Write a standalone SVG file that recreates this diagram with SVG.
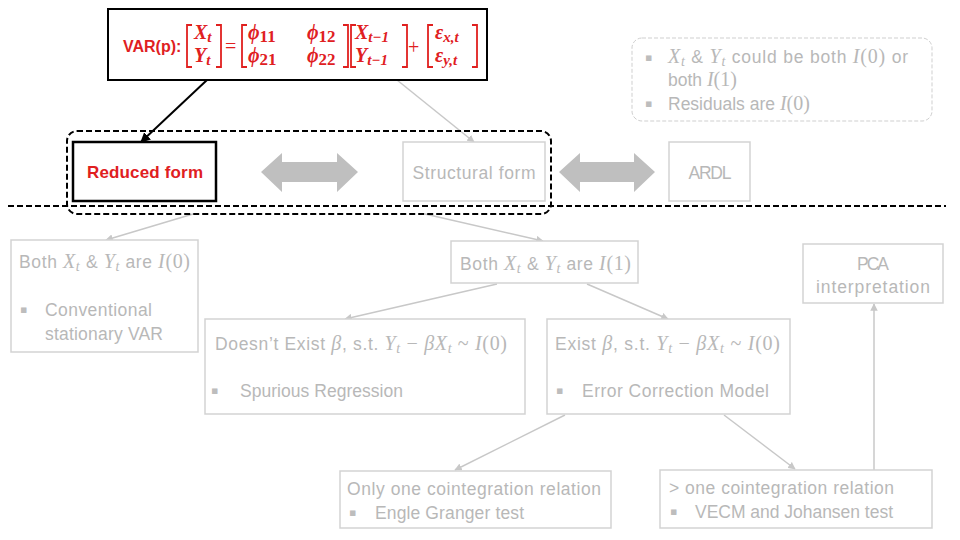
<svg xmlns="http://www.w3.org/2000/svg" width="960" height="540" viewBox="0 0 960 540">
<defs>
<style>
.box{fill:#fff;stroke:#d3d3d3;stroke-width:1.5}
.g{font-family:"Liberation Sans",Arial,sans-serif;font-size:17.5px;fill:#b8b8b8}
.m{font-family:"Liberation Serif","DejaVu Serif",serif;font-style:italic;font-size:20px}
.mr{font-family:"Liberation Serif","DejaVu Serif",serif;font-size:20px}
.sub{font-size:14px}
.bul{font-family:"DejaVu Sans",sans-serif;font-size:11px;fill:#bdbdbd}
.red{fill:#e0201f}
.eq{font-family:"Liberation Serif","DejaVu Serif",serif;font-style:italic;font-weight:bold;font-size:20px;fill:#e0201f}
.eqs{font-size:15px}
.eqd{font-size:17px;font-style:normal}
.br{fill:none;stroke:#e0201f;stroke-width:1.8}
.conn{fill:none;stroke:#c8c8c8;stroke-width:1.5}
.dbl{fill:#bfbfbf}
</style>
<marker id="ag" viewBox="0 0 10 10" refX="9" refY="5" markerWidth="5" markerHeight="5" orient="auto"><path d="M0,0 L10,5 L0,10 z" fill="#c8c8c8"/></marker>
<marker id="ab" viewBox="0 0 10 10" refX="9" refY="5" markerWidth="5" markerHeight="5" orient="auto"><path d="M0,0 L10,5 L0,10 z" fill="#000"/></marker>
</defs>
<rect width="960" height="540" fill="#fff"/>

<line x1="8" y1="206" x2="946" y2="206" stroke="#000" stroke-width="2" stroke-dasharray="6,3"/>

<g id="connectors">
<line x1="207" y1="80" x2="141" y2="142" stroke="#000" stroke-width="2" marker-end="url(#ab)"/>
<line x1="397" y1="80" x2="474" y2="142" class="conn" marker-end="url(#ag)"/>
<line x1="193" y1="214" x2="106" y2="240" class="conn" marker-end="url(#ag)"/>
<line x1="425" y1="214" x2="543" y2="241" class="conn" marker-end="url(#ag)"/>
<line x1="497" y1="284" x2="345" y2="319" class="conn" marker-end="url(#ag)"/>
<line x1="587" y1="284" x2="668" y2="319" class="conn" marker-end="url(#ag)"/>
<line x1="565" y1="415" x2="455" y2="470" class="conn" marker-end="url(#ag)"/>
<line x1="724" y1="415" x2="795" y2="469" class="conn" marker-end="url(#ag)"/>
<line x1="874" y1="470" x2="874" y2="304" class="conn" marker-end="url(#ag)"/>
<polygon class="dbl" points="261,172 282,153 282,162 337,162 337,153 358,172 337,192 337,182 282,182 282,192"/>
<polygon class="dbl" points="559,172 580,153 580,162 634,162 634,153 655,172 634,192 634,182 580,182 580,192"/>
</g>

<g id="var-equation">
<rect x="108" y="9" width="379" height="71" fill="#fff" stroke="#000" stroke-width="2"/>
<text x="123" y="52" font-family="'Liberation Sans',Arial,sans-serif" font-weight="bold" font-size="16" class="red">VAR(p):</text>
<path class="br" d="M192,25 H187 V67 H192 M216,25 H221 V67 H216"/>
<text class="eq" x="194" y="39">X<tspan class="eqs" dy="3">t</tspan></text>
<text class="eq" x="194" y="62">Y<tspan class="eqs" dy="3">t</tspan></text>
<text x="225" y="53" font-family="'Liberation Serif',serif" font-size="20" class="red">=</text>
<path class="br" d="M247,25 H242 V67 H247 M343,25 H348 V67 H343"/>
<text class="eq" x="248" y="39">ϕ<tspan class="eqd" dy="3">11</tspan></text>
<text class="eq" x="307" y="39">ϕ<tspan class="eqd" dy="3">12</tspan></text>
<text class="eq" x="248" y="62">ϕ<tspan class="eqd" dy="3">21</tspan></text>
<text class="eq" x="307" y="62">ϕ<tspan class="eqd" dy="3">22</tspan></text>
<path class="br" d="M356,25 H351 V67 H356 M402,25 H407 V67 H402"/>
<text class="eq" x="355" y="39">X<tspan class="eqs" dy="3">t−1</tspan></text>
<text class="eq" x="355" y="62">Y<tspan class="eqs" dy="3">t−1</tspan></text>
<text x="408" y="54" font-family="'Liberation Serif',serif" font-size="20" class="red">+</text>
<path class="br" d="M433,25 H428 V67 H433 M472,25 H477 V67 H472"/>
<text class="eq" x="435" y="39">ε<tspan class="eqs" dy="3">x,t</tspan></text>
<text class="eq" x="435" y="62">ε<tspan class="eqs" dy="3">y,t</tspan></text>
</g>

<g id="assumptions">
<rect x="632" y="38" width="300" height="83" rx="10" fill="#fff" stroke="#cfcfcf" stroke-width="1" stroke-dasharray="4,2"/>
<text class="bul" x="645" y="61">▪</text>
<text class="g" x="668" y="63" textLength="240"><tspan class="m">X</tspan><tspan class="m sub" dy="3">t</tspan><tspan dy="-3"> &amp; </tspan><tspan class="m">Y</tspan><tspan class="m sub" dy="3">t</tspan><tspan dy="-3"> could be both </tspan><tspan class="m">I</tspan><tspan class="mr">(0)</tspan> or</text>
<text class="g" x="668" y="86">both <tspan class="m">I</tspan><tspan class="mr">(1)</tspan></text>
<text class="bul" x="645" y="107">▪</text>
<text class="g" x="668" y="110">Residuals are <tspan class="m">I</tspan><tspan class="mr">(0)</tspan></text>
</g>

<g id="reduced-structural-group">
<rect x="67" y="131" width="484" height="83" rx="10" fill="none" stroke="#000" stroke-width="2" stroke-dasharray="6,3"/>
</g>

<g id="reduced-form">
<rect x="73" y="142" width="143" height="59" fill="#fff" stroke="#000" stroke-width="2.5"/>
<text x="145" y="178" text-anchor="middle" font-family="'Liberation Sans',Arial,sans-serif" font-weight="bold" font-size="17" class="red" textLength="116">Reduced form</text>
</g>

<g id="structural-form">
<rect x="403" y="142" width="142" height="59" class="box"/>
<text class="g" x="474" y="179" text-anchor="middle" textLength="123">Structural form</text>
</g>

<g id="ardl">
<rect x="669" y="142" width="81" height="59" class="box"/>
<text class="g" x="710" y="179" text-anchor="middle" textLength="43">ARDL</text>
</g>

<g id="both-i0">
<rect x="11" y="240" width="187" height="112" class="box"/>
<text class="g" x="19" y="268" textLength="171">Both <tspan class="m">X</tspan><tspan class="m sub" dy="3">t</tspan><tspan dy="-3"> &amp; </tspan><tspan class="m">Y</tspan><tspan class="m sub" dy="3">t</tspan><tspan dy="-3"> are </tspan><tspan class="m">I</tspan><tspan class="mr">(0)</tspan></text>
<text class="bul" x="20" y="313">▪</text>
<text class="g" x="45" y="316" textLength="107">Conventional</text>
<text class="g" x="45" y="340" textLength="118">stationary VAR</text>
</g>

<g id="both-i1">
<rect x="451" y="241" width="187" height="42" class="box"/>
<text class="g" x="460" y="270" textLength="171">Both <tspan class="m">X</tspan><tspan class="m sub" dy="3">t</tspan><tspan dy="-3"> &amp; </tspan><tspan class="m">Y</tspan><tspan class="m sub" dy="3">t</tspan><tspan dy="-3"> are </tspan><tspan class="m">I</tspan><tspan class="mr">(1)</tspan></text>
</g>

<g id="pca">
<rect x="803" y="244" width="140" height="59" class="box"/>
<text class="g" x="873" y="270" text-anchor="middle" textLength="32">PCA</text>
<text class="g" x="873" y="293" text-anchor="middle" textLength="114">interpretation</text>
</g>

<g id="no-cointegration">
<rect x="205" y="319" width="320" height="95" class="box"/>
<text class="g" x="215" y="350" textLength="292">Doesn’t Exist <tspan class="m">β</tspan>, s.t. <tspan class="m">Y</tspan><tspan class="m sub" dy="3">t</tspan><tspan class="mr" dy="-3"> − </tspan><tspan class="m">βX</tspan><tspan class="m sub" dy="3">t</tspan><tspan class="mr" dy="-3"> ~ </tspan><tspan class="m">I</tspan><tspan class="mr">(0)</tspan></text>
<text class="bul" x="211" y="394">▪</text>
<text class="g" x="240" y="397" textLength="163">Spurious Regression</text>
</g>

<g id="cointegration">
<rect x="547" y="319" width="243" height="95" class="box"/>
<text class="g" x="555" y="350" textLength="225">Exist <tspan class="m">β</tspan>, s.t. <tspan class="m">Y</tspan><tspan class="m sub" dy="3">t</tspan><tspan class="mr" dy="-3"> − </tspan><tspan class="m">βX</tspan><tspan class="m sub" dy="3">t</tspan><tspan class="mr" dy="-3"> ~ </tspan><tspan class="m">I</tspan><tspan class="mr">(0)</tspan></text>
<text class="bul" x="556" y="394">▪</text>
<text class="g" x="582" y="397" textLength="187">Error Correction Model</text>
</g>

<g id="one-relation">
<rect x="340" y="471" width="271" height="57" class="box"/>
<text class="g" x="347" y="495" textLength="254">Only one cointegration relation</text>
<text class="bul" x="349" y="516">▪</text>
<text class="g" x="375" y="519" textLength="149">Engle Granger test</text>
</g>

<g id="multi-relation">
<rect x="660" y="470" width="272" height="58" class="box"/>
<text class="g" x="669" y="494" textLength="225">&gt; one cointegration relation</text>
<text class="bul" x="670" y="515">▪</text>
<text class="g" x="695" y="518" textLength="198">VECM and Johansen test</text>
</g>
</svg>
